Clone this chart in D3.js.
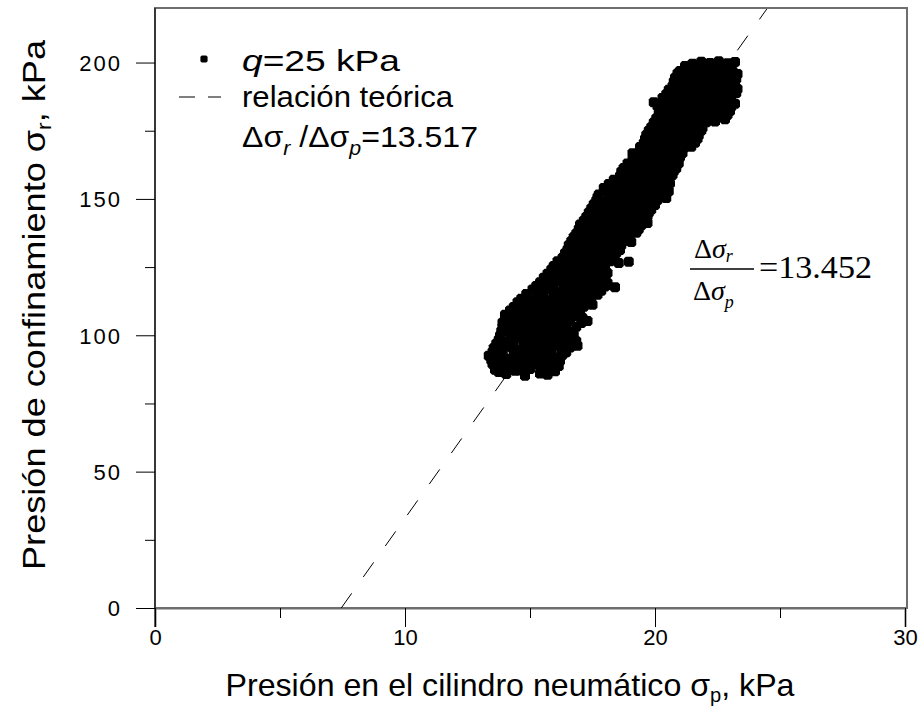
<!DOCTYPE html>
<html>
<head>
<meta charset="utf-8">
<script src="https://cdn.jsdelivr.net/npm/d3@7"></script>
<style>
  body { margin: 0; background: #fff; }
  svg { display: block; }
  text { font-family: "Liberation Sans", Arial, sans-serif; fill: #000; }
</style>
</head>
<body>
<div id="chart"></div>
<script>
// ticks
var xTicks = [0, 10, 20, 30];
var xMinor = [5, 15, 25];
var yTicks = [0, 50, 100, 150, 200];
var yMinor = [25, 75, 125, 175];

// relación teórica (sigma_p, sigma_r)
var lineaTeorica = [[7.45, 0], [24.5, 220]];

// mediciones q = 25 kPa : [sigma_p, sigma_r]
var puntos = [
  [13.75,86.5],[14.05,85.8],[14.4,87],[14.8,85.2],[15.4,86],[15.7,85.5],[16.0,86.8],
  [13.5,89.5],[13.85,89],[14.2,88.6],[14.5,89.8],[14.85,88.5],[15.2,89.2],[15.5,88.8],[15.85,89.6],[16.15,88.7],
  [13.35,92.5],[13.7,92],[14.0,91.6],[14.35,92.8],[14.65,91.8],[15.0,92.4],[15.35,91.5],[15.65,92.6],[16.0,91.9],[16.3,92.8],
  [13.55,95.3],[13.9,94.8],[14.25,95.6],[14.55,94.6],[14.9,95.2],[15.2,96],[15.55,95],[15.9,95.8],[16.25,94.9],[16.6,95.5],[16.9,96.2],
  [13.75,98.4],[14.1,97.8],[14.4,98.9],[14.75,98],[15.1,98.6],[15.45,97.6],[15.8,98.8],[16.15,98.1],[16.5,98.7],[16.85,97.8],
  [13.85,101.5],[14.2,100.8],[14.55,101.8],[14.9,100.6],[15.3,101.4],[15.65,102],[16.0,100.9],[16.35,101.6],[16.65,101.2],
  [13.9,104.6],[14.25,104],[14.6,105],[14.95,103.8],[15.3,104.7],[15.6,103.6],[15.95,104.9],[16.3,104.2],[16.6,105.3],[17.05,104.5],[17.3,105.2],
  [14.0,107.5],[14.35,107],[14.7,108],[15.05,106.8],[15.4,107.6],[15.75,108.2],[16.1,107.1],[16.45,107.8],[16.8,107],
  [14.35,110.4],[14.7,110.9],[15.0,109.8],[15.4,110.6],[15.75,111],[16.1,110.2],[16.45,110.8],[16.8,109.9],[17.15,110.5],[17.5,111.2],
  [14.65,113.4],[15.0,113],[15.35,114],[15.7,112.8],[16.05,113.6],[16.4,114.2],[16.75,113.1],[17.1,113.8],[17.45,113],
  [15.1,116.8],[15.5,116.2],[15.85,117],[16.2,115.8],[16.55,116.6],[16.9,117.2],[17.25,116.1],[17.6,116.9],[17.85,116.3],[18.4,117.6],
  [15.4,119.4],[15.75,118.8],[16.1,119.8],[16.45,119],[16.8,119.6],[17.15,118.7],[17.5,119.5],[17.85,120],[18.1,119.2],
  [15.7,122.6],[16.05,122],[16.4,122.9],[16.75,121.7],[17.1,122.4],[17.45,123],[17.8,122.1],[18.1,122.8],
  [15.95,125.4],[16.3,124.8],[16.65,125.7],[17.0,124.9],[17.35,125.6],[17.7,124.6],[18.0,125.3],[18.55,126.5],[18.95,127],
  [16.3,128.4],[16.65,127.8],[17.0,128.8],[17.35,128],[17.7,128.6],[18.05,127.7],[18.3,128.9],
  [16.5,131.4],[16.85,130.8],[17.2,131.8],[17.55,131],[17.9,131.6],[18.25,130.7],[18.6,131.3],
  [16.65,134.5],[17.0,133.8],[17.35,134.7],[17.7,134],[18.05,134.9],[18.4,133.9],[18.75,134.6],[19.05,134.2],
  [16.85,137.3],[17.2,136.8],[17.55,137.7],[17.9,136.6],[18.25,137.5],[18.6,138],[18.95,137],[19.25,137.6],
  [17.0,140.6],[17.35,140],[17.7,141],[18.05,139.8],[18.4,140.7],[18.75,140.1],[19.1,141],[19.45,140.3],[19.7,141.2],
  [17.25,143.4],[17.6,143],[17.95,143.9],[18.3,142.8],[18.65,143.6],[19.0,144],[19.35,143.1],[19.7,143.7],
  [17.45,146.5],[17.8,145.8],[18.15,146.8],[18.5,146],[18.85,146.7],[19.2,145.8],[19.55,146.5],[19.85,146.1],
  [17.65,149.4],[18.0,148.9],[18.35,149.8],[18.7,148.7],[19.05,149.5],[19.4,150],[19.75,149],[20.1,149.6],[20.45,150.3],
  [17.75,151.6],[18.1,152.3],[18.45,151.8],[18.8,152.6],[19.15,151.7],[19.5,152.4],[19.85,153],[20.2,152],[20.55,152.8],
  [18.15,155.5],[18.5,155],[18.85,155.8],[19.2,154.8],[19.55,155.6],[19.9,156],[20.25,155.1],[20.6,155.7],
  [18.6,158.4],[18.95,157.8],[19.3,158.7],[19.65,157.9],[20.0,158.6],[20.35,158],[20.7,158.8],
  [18.75,161.3],[19.1,160.8],[19.45,161.8],[19.8,160.9],[20.15,161.5],[20.5,160.7],[20.85,161.2],
  [19.1,164.4],[19.45,163.8],[19.8,164.7],[20.15,163.9],[20.5,164.6],[20.85,164],
  [19.1,166.7],[19.4,167.3],[19.75,166.8],[20.1,167.8],[20.45,166.9],[20.8,167.5],[21.1,166.8],
  [19.55,170.5],[19.9,169.8],[20.25,170.7],[20.6,170],[20.95,170.8],[21.3,170.1],[21.6,170.6],
  [19.65,173.4],[20.0,172.8],[20.35,173.8],[20.7,172.9],[21.05,173.6],[21.4,172.7],[21.75,173.3],
  [19.85,176.3],[20.2,175.8],[20.55,176.7],[20.9,175.9],[21.25,176.5],[21.6,177],[21.9,176.1],
  [20.05,179.5],[20.4,178.8],[20.75,179.8],[21.1,178.9],[21.45,179.6],[21.8,178.7],[22.15,179.4],[22.5,180],[22.8,179.2],
  [20.25,182.3],[20.6,181.8],[20.95,182.8],[21.3,182],[21.65,182.6],[22.0,181.7],[22.35,182.5],[22.7,183],[23.0,182.2],
  [19.95,185.4],[20.4,185.8],[20.75,184.8],[21.1,185.6],[21.45,184.7],[21.8,185.5],[22.15,186],[22.5,185],[22.85,185.7],[23.2,184.9],
  [20.45,188.4],[20.8,187.9],[21.15,188.8],[21.5,188],[21.85,188.6],[22.2,187.8],[22.55,188.7],[22.9,188.1],[23.25,188.8],
  [20.7,191.3],[21.05,190.8],[21.4,191.7],[21.75,190.9],[22.1,191.6],[22.45,190.7],[22.8,191.4],[23.15,191.9],
  [20.8,194.4],[21.15,193.8],[21.5,194.7],[21.85,193.9],[22.2,194.6],[22.55,193.8],[22.9,194.5],[23.25,194],
  [21.0,196.9],[21.35,197.5],[21.7,196.6],[22.05,197.4],[22.4,196.8],[22.75,197.6],[23.1,196.9],
  [21.5,199.6],[21.85,200.3],[22.2,199.8],[22.55,200.5],[22.9,199.7],[23.2,200.2]
];

// segunda serie de lecturas del mismo ensayo
var puntos2 = [
  [13.6,87.4],[13.95,87.9],[14.6,87.1],[15.0,87.6],[15.55,87.3],[15.9,87.8],
  [13.45,90.9],[13.8,90.5],[14.15,91.2],[14.7,90.6],[15.05,91],[15.45,90.4],[15.8,91.1],[16.2,90.6],
  [13.5,93.9],[13.9,93.4],[14.45,94.1],[14.8,93.6],[15.2,94],[15.5,93.3],[15.85,94.2],[16.45,93.8],
  [13.65,96.9],[14.0,96.5],[14.35,97.2],[14.75,96.6],[15.05,97.1],[15.4,96.7],[15.75,97.3],[16.05,96.5],[16.4,97],[16.75,96.7],
  [13.8,99.9],[14.3,99.5],[14.6,100.2],[14.95,99.7],[15.3,100.1],[15.6,99.4],[15.95,100.3],[16.3,99.8],[16.75,100.1],
  [13.9,103.1],[14.4,102.7],[14.75,103.3],[15.15,102.8],[15.45,103.2],[15.8,102.6],[16.15,103.4],[16.45,102.9],[16.85,103.1],
  [14.1,106.1],[14.45,105.7],[14.8,106.4],[15.2,105.9],[15.55,106.3],[15.9,105.8],[16.25,106.2],[16.65,106.6],[17.1,106.4],
  [14.2,109.1],[14.55,108.8],[14.9,109.4],[15.2,108.9],[15.6,109.3],[15.95,108.7],[16.3,109.2],[16.65,109.5],[17.0,108.9],
  [14.5,112.1],[14.85,111.8],[15.2,112.4],[15.55,111.9],[15.9,112.3],[16.25,111.7],[16.6,112.2],[16.95,111.9],[17.3,112.3],
  [14.85,115.1],[15.25,114.8],[15.55,115.4],[15.95,114.9],[16.3,115.3],[16.7,114.7],[17.05,115.2],[17.4,115.5],[17.7,114.9],
  [15.25,118.1],[15.6,117.7],[15.95,118.4],[16.35,117.9],[16.65,118.3],[17.0,117.8],[17.35,118.2],[17.7,118.5],[18.0,117.9],
  [15.55,121.1],[15.9,120.6],[16.25,121.3],[16.6,120.8],[16.95,121.2],[17.3,120.6],[17.65,121.1],[17.95,121.4],
  [15.85,124.1],[16.15,123.6],[16.5,124.3],[16.85,123.7],[17.2,124.2],[17.55,123.7],[17.9,124.1],
  [16.1,127.1],[16.45,126.6],[16.8,127.3],[17.15,126.8],[17.5,127.2],[17.85,126.6],[18.2,127.1],
  [16.4,130.1],[16.75,129.6],[17.1,130.3],[17.45,129.8],[17.8,130.2],[18.15,129.7],[18.45,130.1],
  [16.55,133],[16.9,132.5],[17.25,133.3],[17.6,132.6],[17.95,133.1],[18.3,132.5],[18.65,133],
  [16.75,136],[17.1,135.6],[17.45,136.3],[17.8,135.7],[18.15,136.2],[18.5,135.8],[18.85,136.3],
  [16.95,139],[17.3,138.6],[17.6,139.3],[17.95,138.7],[18.3,139.2],[18.65,138.8],[19.0,139.3],[19.35,138.9],
  [17.15,142],[17.5,141.6],[17.85,142.3],[18.2,141.8],[18.55,142.2],[18.9,141.7],[19.25,142.2],[19.6,141.9],
  [17.35,145],[17.7,144.6],[18.05,145.3],[18.4,144.7],[18.75,145.2],[19.1,144.8],[19.45,145.3],[19.75,144.9],
  [17.55,148],[17.9,147.6],[18.25,148.3],[18.6,147.7],[18.95,148.2],[19.3,147.7],[19.65,148.2],[20.0,147.8],
  [17.7,150.6],[18.2,150.9],[18.55,150.4],[18.9,151],[19.25,150.6],[19.6,151.1],[19.95,150.7],[20.3,151],
  [17.95,154],[18.3,153.6],[18.65,154.3],[19.0,153.7],[19.35,154.2],[19.7,153.8],[20.05,154.3],[20.4,153.9],
  [18.35,157],[18.75,156.6],[19.1,157.3],[19.45,156.8],[19.8,157.2],[20.15,156.7],[20.5,157.2],
  [18.65,160],[19.0,159.6],[19.35,160.3],[19.7,159.7],[20.05,160.2],[20.4,159.7],[20.75,160.1],
  [18.9,163],[19.25,162.6],[19.6,163.3],[19.95,162.7],[20.3,163.2],[20.65,162.8],[20.95,163.1],
  [19.3,165.7],[19.65,165.3],[20.0,166],[20.35,165.4],[20.7,165.8],[21.0,165.3],
  [19.4,169],[19.75,168.6],[20.1,169.3],[20.45,168.7],[20.8,169.2],[21.15,168.7],[21.45,169.1],
  [19.6,172],[19.95,171.6],[20.3,172.3],[20.65,171.7],[21.0,172.2],[21.35,171.7],[21.7,172.1],
  [19.75,175],[20.1,174.6],[20.45,175.3],[20.8,174.7],[21.15,175.2],[21.5,174.7],[21.85,175.1],
  [19.95,178],[20.3,177.6],[20.65,178.3],[21.0,177.7],[21.35,178.2],[21.7,177.7],[22.05,178.1],[22.4,178.4],
  [20.15,181],[20.5,180.6],[20.85,181.3],[21.2,180.7],[21.55,181.2],[21.9,180.7],[22.25,181.1],[22.6,181.5],[22.9,180.8],
  [20.1,184],[20.55,183.6],[20.9,184.3],[21.25,183.7],[21.6,184.2],[21.95,183.6],[22.3,184.1],[22.65,184.4],[23.05,183.8],
  [20.3,187],[20.6,186.6],[20.95,187.3],[21.3,186.7],[21.65,187.2],[22.0,186.8],[22.35,187.3],[22.7,186.8],[23.05,187.2],
  [20.55,190],[20.9,189.6],[21.25,190.3],[21.6,189.7],[21.95,190.2],[22.3,189.7],[22.65,190.2],[23.0,189.8],[23.3,190.3],
  [20.75,193],[21.1,192.6],[21.45,193.3],[21.8,192.7],[22.15,193.2],[22.5,192.6],[22.85,193.1],[23.2,192.8],
  [20.9,196],[21.25,195.6],[21.6,196.3],[21.95,195.7],[22.3,196.2],[22.65,195.7],[23.0,196.2],[23.3,195.8],
  [21.2,198.7],[21.6,198.3],[21.95,198.9],[22.3,198.4],[22.65,198.9],[23.0,198.5]
];

var width = 924, height = 723;
var svg = d3.select("#chart").append("svg")
    .attr("width", width)
    .attr("height", height);

var x = d3.scaleLinear().domain([0, 30]).range([155, 905]);
var y = d3.scaleLinear().domain([0, 220]).range([608, 8]);

// frame
svg.append("rect")
    .attr("x", 155).attr("y", 8)
    .attr("width", 752).attr("height", 600)
    .attr("fill", "none")
    .attr("stroke", "#6e6e6e")
    .attr("stroke-width", 2);

svg.append("defs").append("clipPath").attr("id", "clip")
  .append("rect").attr("x", 155).attr("y", 9).attr("width", 751).attr("height", 599);

// axes
var xAxis = svg.append("g")
    .attr("transform", "translate(0,608)")
    .call(d3.axisBottom(x).tickValues(xTicks).tickSize(19).tickPadding(2).tickFormat(d3.format("d")));
svg.append("g")
    .attr("transform", "translate(0,608)")
    .call(d3.axisBottom(x).tickValues(xMinor).tickSize(10).tickFormat(""))
    .select(".domain").remove();
xAxis.select(".domain").attr("stroke", "#6e6e6e").attr("stroke-width", 2);

var yAxis = svg.append("g")
    .attr("transform", "translate(155,0)")
    .call(d3.axisLeft(y).tickValues(yTicks).tickSize(19).tickPadding(14).tickFormat(d3.format("d")));
svg.append("g")
    .attr("transform", "translate(155,0)")
    .call(d3.axisLeft(y).tickValues(yMinor).tickSize(10).tickFormat(""))
    .select(".domain").remove();
yAxis.select(".domain").attr("d", "M0,8V627");

svg.selectAll(".tick line").attr("stroke", "#000");
svg.selectAll(".tick text")
    .attr("font-family", "Liberation Sans, Arial, sans-serif")
    .attr("font-size", 22)
    .attr("fill", "#000");
yAxis.selectAll(".tick text").attr("letter-spacing", 2).attr("dy", "0.36em");
xAxis.selectAll(".tick text").attr("dy", "0.71em");

// theoretical line
var line = d3.line().x(function(d) { return x(d[0]); }).y(function(d) { return y(d[1]); });
svg.append("path")
    .datum(lineaTeorica)
    .attr("clip-path", "url(#clip)")
    .attr("d", line)
    .attr("fill", "none")
    .attr("stroke", "#000")
    .attr("stroke-width", 1)
    .attr("stroke-dasharray", "18,20");

// points
var marker = "M-2.9,-5H2.9L5,-2.9V2.9L2.9,5H-2.9L-5,2.9V-2.9Z";
var legendMarker = "M-2.2,-3.6H2.2L3.6,-2.2V2.2L2.2,3.6H-2.2L-3.6,2.2V-2.2Z";
svg.append("g").selectAll("path")
    .data(puntos.concat(puntos2))
    .enter()
    .append("path")
    .attr("d", marker)
    .attr("transform", function(d) { return "translate(" + x(d[0]) + "," + y(d[1]) + ")"; })
    .attr("fill", "#000");

// legend
var lg = svg.append("g");
lg.append("path").attr("d", legendMarker).attr("transform", "translate(204,59)").attr("fill", "#000");
lg.append("line").attr("x1", 179).attr("x2", 195).attr("y1", 97).attr("y2", 97).attr("stroke", "#000");
lg.append("line").attr("x1", 208).attr("x2", 221).attr("y1", 97).attr("y2", 97).attr("stroke", "#000");

var t1 = lg.append("text").attr("x", 242).attr("y", 71).attr("font-size", 30)
    .attr("textLength", 158).attr("lengthAdjust", "spacingAndGlyphs");
t1.append("tspan").attr("font-style", "italic").text("q");
t1.append("tspan").text("=25 kPa");

lg.append("text").attr("x", 242).attr("y", 107).attr("font-size", 30)
    .attr("textLength", 211).attr("lengthAdjust", "spacingAndGlyphs")
    .text("relación teórica");

var t3 = lg.append("text").attr("x", 242).attr("y", 147).attr("font-size", 30)
    .attr("textLength", 236).attr("lengthAdjust", "spacingAndGlyphs");
t3.append("tspan").text("Δσ");
t3.append("tspan").attr("font-style", "italic").attr("font-size", 20).attr("dy", 8).text("r");
t3.append("tspan").attr("dy", -8).text(" /Δσ");
t3.append("tspan").attr("font-style", "italic").attr("font-size", 20).attr("dy", 8).text("p");
t3.append("tspan").attr("dy", -8).text("=13.517");

// fitted slope annotation
var serif = "Liberation Serif, Times New Roman, serif";
var num = svg.append("text").attr("x", 694).attr("y", 258).attr("font-size", 28).style("font-family", serif);
num.append("tspan").text("Δ");
num.append("tspan").attr("font-style", "italic").text("σ");
num.append("tspan").attr("font-style", "italic").attr("font-size", 18).attr("dy", 4).text("r");
svg.append("line").attr("x1", 690).attr("x2", 754).attr("y1", 269).attr("y2", 269)
    .attr("stroke", "#000").attr("stroke-width", 1.5);
var den = svg.append("text").attr("x", 693).attr("y", 300).attr("font-size", 28).style("font-family", serif);
den.append("tspan").text("Δ");
den.append("tspan").attr("font-style", "italic").text("σ");
den.append("tspan").attr("font-style", "italic").attr("font-size", 18).attr("dy", 8).text("p");
svg.append("text").attr("x", 759).attr("y", 278).attr("font-size", 32).style("font-family", serif)
    .attr("textLength", 113).attr("lengthAdjust", "spacingAndGlyphs")
    .text("=13.452");

// axis titles
var xt = svg.append("text")
    .attr("x", 510).attr("y", 696)
    .attr("text-anchor", "middle")
    .attr("font-size", 32)
    .attr("textLength", 569).attr("lengthAdjust", "spacingAndGlyphs");
xt.append("tspan").text("Presión en el cilindro neumático σ");
xt.append("tspan").attr("font-size", 20).attr("dy", 6).text("p");
xt.append("tspan").attr("dy", -6).text(", kPa");

var yt = svg.append("text")
    .attr("transform", "translate(45,305) rotate(-90)")
    .attr("text-anchor", "middle")
    .attr("font-size", 32)
    .attr("textLength", 530).attr("lengthAdjust", "spacingAndGlyphs");
yt.append("tspan").text("Presión de confinamiento σ");
yt.append("tspan").attr("font-size", 20).attr("dy", 6).text("r");
yt.append("tspan").attr("dy", -6).text(", kPa");
</script>
</body>
</html>
